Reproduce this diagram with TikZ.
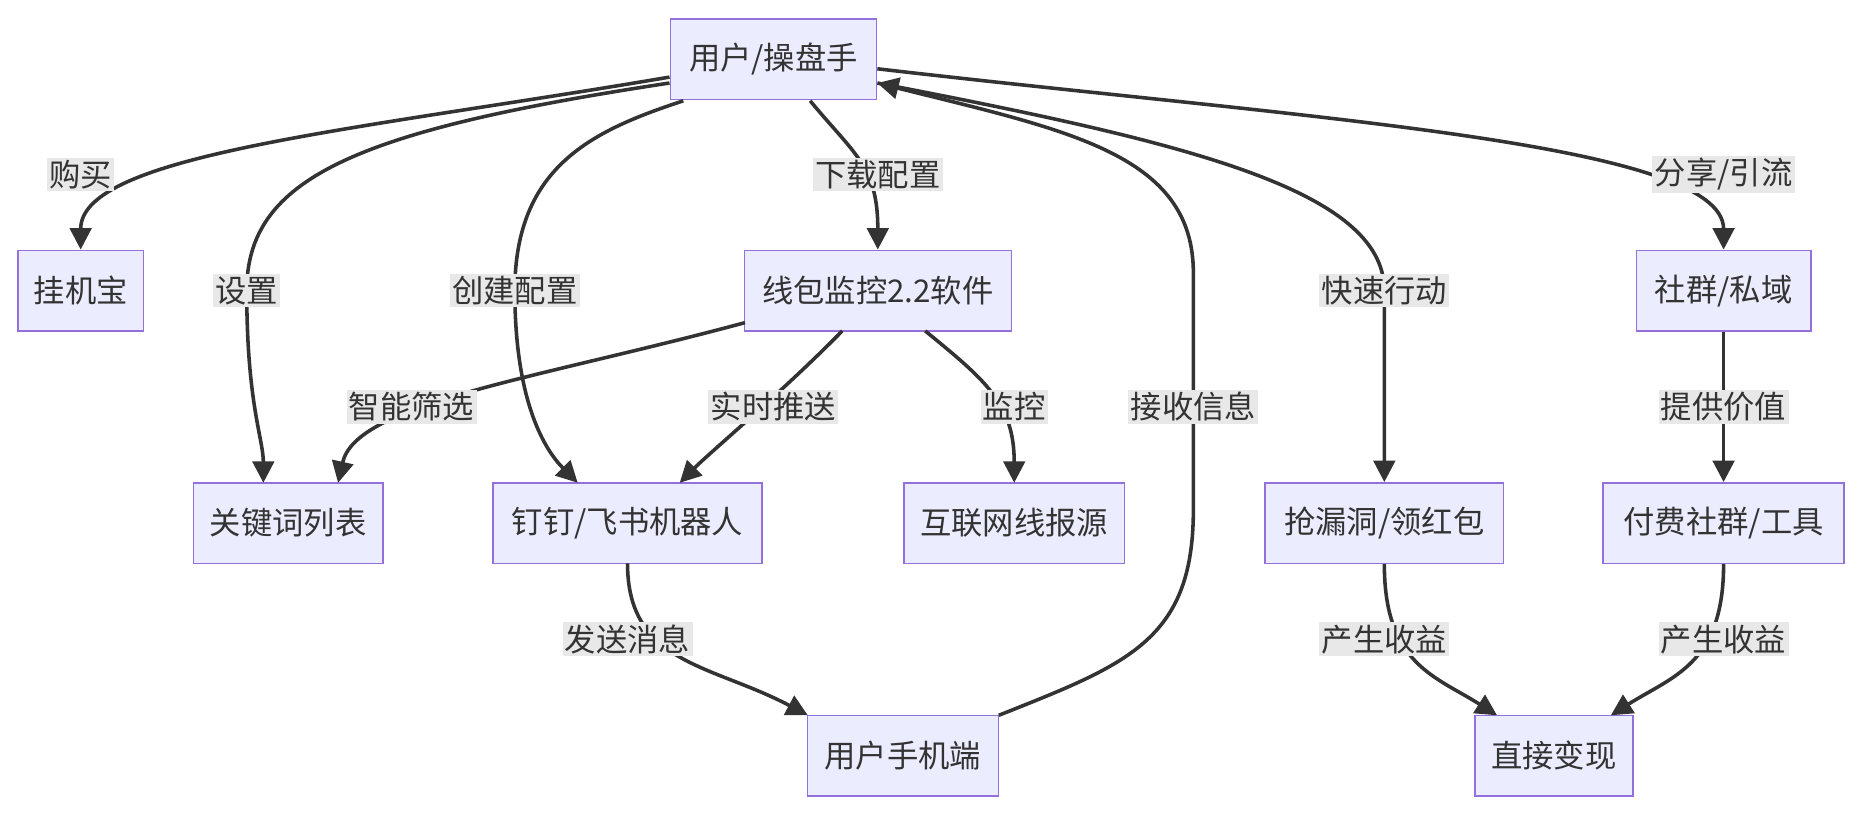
\documentclass[tikz,border=0pt]{standalone}
\usepackage{fontspec}
\setmainfont{Noto Sans CJK SC}
\usetikzlibrary{arrows.meta}
\definecolor{nf}{HTML}{ECECFF}
\definecolor{nb}{HTML}{9370DB}
\definecolor{ln}{HTML}{333333}
\definecolor{lb}{HTML}{E8E8E8}
\begin{document}
\begin{tikzpicture}[x=0.5pt,y=-0.5pt,
  box/.style={draw=nb,fill=nf,line width=0.6pt,minimum height=34pt,inner sep=0pt,font=\fontsize{13.2pt}{15pt}\selectfont,text=ln},
  lbl/.style={fill=lb,inner sep=1pt,font=\fontsize{13.2pt}{15pt}\selectfont,text=ln},
  e/.style={draw=ln,line width=1.5pt,-{Triangle[length=9pt,width=9pt]}}]
\useasboundingbox (0,0) rectangle (1568,688);
\node[box,minimum width=87pt] (u) at (652,50) {用户/操盘手};
\node[box,minimum width=53pt] (g) at (68,245) {挂机宝};
\node[box,minimum width=112.5pt] (x) at (740,245) {线包监控2.2软件};
\node[box,minimum width=73.5pt] (s) at (1453,245) {社群/私域};
\node[box,minimum width=80pt] (k) at (243,441) {关键词列表};
\node[box,minimum width=113.5pt] (d) at (529,441) {钉钉/飞书机器人};
\node[box,minimum width=93pt] (h) at (855,441) {互联网线报源};
\node[box,minimum width=100.5pt] (q) at (1167,441) {抢漏洞/领红包};
\node[box,minimum width=101.5pt] (f) at (1453,441) {付费社群/工具};
\node[box,minimum width=80.5pt] (m) at (761,637) {用户手机端};
\node[box,minimum width=66.5pt] (z) at (1310,637) {直接变现};
% edges
\draw[e] (u.west|-0,65) .. controls (300,110) and (68,130) .. (g.north);
\node[lbl] at (68,147) {购买};
\draw[e] (u.west|-0,70) .. controls (300,110) and (208,150) .. (208,245) .. controls (208,340) and (222,370) .. (222,407);
\node[lbl] at (208,245) {设置};
\draw[e] (576,85) .. controls (500,110) and (434,140) .. (434,245) .. controls (434,340) and (460,380) .. (487,407);
\node[lbl] at (434,245) {创建配置};
\draw[e] (683,85) .. controls (720,130) and (740,140) .. (x.north);
\node[lbl] at (740,147) {下载配置};
\draw[e] (u.east|-0,70) .. controls (1000,120) and (1167,160) .. (1167,245) -- (q.north);
\node[lbl] at (1167,245) {快速行动};
\draw[e] (u.east|-0,58) .. controls (1100,100) and (1453,120) .. (s.north);
\node[lbl] at (1453,147) {分享/引流};
\draw[e] (628,272) .. controls (450,320) and (300,340) .. (285,407);
\node[lbl] at (347,343) {智能筛选};
\draw[e] (710,279) .. controls (660,330) and (600,380) .. (573,407);
\node[lbl] at (652,343) {实时推送};
\draw[e] (780,279) .. controls (830,320) and (855,340) .. (855,407);
\node[lbl] at (855,343) {监控};
\draw[e] (529,475) .. controls (529,560) and (600,560) .. (681,603);
\node[lbl] at (529,539) {发送消息};
\draw[e] (842,603) .. controls (950,560) and (1006,540) .. (1006,430) -- (1006,230) .. controls (1006,130) and (900,110) .. (u.east|-0,70);
\node[lbl] at (1006,343) {接收信息};
\draw[e] (s.south) -- (f.north);
\node[lbl] at (1453,343) {提供价值};
\draw[e] (q.south) .. controls (1167,560) and (1210,570) .. (1262,603);
\node[lbl] at (1167,539) {产生收益};
\draw[e] (f.south) .. controls (1453,560) and (1410,570) .. (1358,603);
\node[lbl] at (1453,539) {产生收益};
\end{tikzpicture}
\end{document}
